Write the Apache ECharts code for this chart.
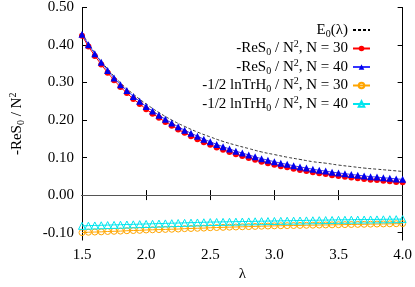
<!DOCTYPE html>
<html>
<head>
<meta charset="utf-8">
<script src="https://cdn.jsdelivr.net/npm/echarts@6/dist/echarts.min.js"></script>
<style>
html,body{margin:0;padding:0;background:#fff;}
#c{width:415px;height:287px;}
</style>
</head>
<body>
<div id="c"></div>
<script>
// lambda grid of the sampled points
const lambda = [
  1.50,1.55,1.60,1.65,1.70,1.75,1.80,1.85,1.90,1.95,2.00,
  2.05,2.10,2.15,2.20,2.25,2.30,2.35,2.40,2.45,2.50,
  2.55,2.60,2.65,2.70,2.75,2.80,2.85,2.90,2.95,3.00,
  3.05,3.10,3.15,3.20,3.25,3.30,3.35,3.40,3.45,3.50,
  3.55,3.60,3.65,3.70,3.75,3.80,3.85,3.90,3.95,4.00
];
// E0(lambda) dashed reference curve
const eLambda = [1.5,1.6,1.7,1.8,1.9,2.0,2.1,2.2,2.3,2.4,2.5,2.6,2.7,2.8,2.9,3.0,3.1,3.2,3.3,3.4,3.5,3.6,3.7,3.8,3.9,4.0];
const e0 = [0.431,0.379,0.336,0.299,0.269,0.243,0.220,0.200,0.183,0.168,0.155,0.143,0.133,0.124,0.115,0.108,0.101,0.095,0.089,0.085,0.080,0.076,0.072,0.069,0.066,0.063];
// -ReS0 / N^2
const reS30 = [
  0.425,0.396,0.371,0.348,0.326,0.306,0.288,0.272,0.256,0.243,0.229,
  0.217,0.206,0.195,0.185,0.175,0.166,0.157,0.149,0.141,0.134,
  0.127,0.121,0.115,0.109,0.104,0.099,0.094,0.089,0.085,0.081,
  0.077,0.074,0.070,0.067,0.064,0.061,0.058,0.056,0.053,0.051,
  0.049,0.047,0.045,0.043,0.041,0.040,0.038,0.037,0.035,0.034
];
const reS40 = [
  0.429,0.401,0.377,0.354,0.332,0.312,0.294,0.279,0.263,0.250,0.236,
  0.224,0.213,0.202,0.192,0.182,0.173,0.165,0.157,0.149,0.142,
  0.135,0.129,0.123,0.117,0.112,0.107,0.102,0.097,0.093,0.089,
  0.085,0.082,0.078,0.075,0.072,0.069,0.066,0.064,0.061,0.059,
  0.057,0.055,0.053,0.051,0.049,0.048,0.046,0.045,0.043,0.042
];
// -1/2 lnTrH0 / N^2
const lnTr30 = [
  -0.100,-0.099,-0.0985,-0.098,-0.097,-0.0965,-0.096,-0.095,-0.0945,-0.094,-0.093,
  -0.0925,-0.092,-0.0915,-0.091,-0.0905,-0.0895,-0.089,-0.0885,-0.088,-0.087,
  -0.0865,-0.086,-0.0855,-0.085,-0.0845,-0.084,-0.0835,-0.083,-0.0825,-0.082,
  -0.0817,-0.0814,-0.0811,-0.0808,-0.0805,-0.0802,-0.0799,-0.0796,-0.0793,-0.079,
  -0.0787,-0.0784,-0.0781,-0.0778,-0.0775,-0.0772,-0.0769,-0.0766,-0.0763,-0.076
];
const lnTr40 = [
  -0.082,-0.0815,-0.081,-0.0805,-0.080,-0.0795,-0.079,-0.0785,-0.078,-0.0775,-0.077,
  -0.0765,-0.076,-0.0755,-0.075,-0.0745,-0.074,-0.0735,-0.073,-0.0725,-0.072,
  -0.0717,-0.0714,-0.0711,-0.0708,-0.0705,-0.0702,-0.0699,-0.0696,-0.0693,-0.069,
  -0.0687,-0.0684,-0.0681,-0.0678,-0.0675,-0.0672,-0.0669,-0.0666,-0.0663,-0.066,
  -0.0658,-0.0656,-0.0654,-0.0652,-0.065,-0.0648,-0.0646,-0.0644,-0.0642,-0.064
];
const xTicks = [1.5,2.0,2.5,3.0,3.5,4.0];
const yTicks = [-0.1,0,0.1,0.2,0.3,0.4,0.5];

const legendTexts = {
  E0: 'E{sub|0}(λ)',
  r30: '-ReS{sub|0} / N{sup|2}, N = 30',
  r40: '-ReS{sub|0} / N{sup|2}, N = 40',
  l30: '-1/2 lnTrH{sub|0} / N{sup|2}, N = 30',
  l40: '-1/2 lnTrH{sub|0} / N{sup|2}, N = 40'
};
const FF = 'Liberation Serif';
const rich = {
  sub: {fontFamily: FF, fontSize: 10, color: '#000', padding: [8, 0, 0, 0]},
  sup: {fontFamily: FF, fontSize: 10, color: '#000', padding: [0, 0, 8, 0]}
};
function pairs(xs, ys) { return xs.map((x, i) => [x, ys[i]]); }

const chart = echarts.init(document.getElementById('c'));
chart.setOption({
  animation: false,
  grid: {left: 79, right: 9, top: 5, bottom: 42},
  legend: {
    data: [{name: 'E0', itemStyle: {opacity: 0}}, 'r30', 'r40', 'l30', 'l40'],
    right: 44,
    top: 22.5,
    orient: 'vertical',
    align: 'right',
    padding: 0,
    itemGap: 0.5,
    itemWidth: 17,
    itemHeight: 7,
    formatter: (name) => legendTexts[name],
    textStyle: {fontFamily: FF, fontSize: 15, color: '#000', rich: rich}
  },
  xAxis: [
    {
      type: 'value', min: 1.5, max: 4.0, interval: 0.5, position: 'bottom',
      axisLine: {show: true, lineStyle: {color: '#000', width: 1}},
      axisTick: {show: true, inside: true, length: 5, customValues: xTicks, lineStyle: {color: '#000'}},
      splitLine: {show: false},
      name: 'λ', nameLocation: 'middle', nameGap: 25,
      nameTextStyle: {fontFamily: FF, fontSize: 15, color: '#000'},
      axisLabel: {show: true, customValues: xTicks, margin: 7, fontFamily: FF, fontSize: 15, color: '#000',
        formatter: v => v.toFixed(1)}
    },
    {
      type: 'value', min: 1.5, max: 4.0, interval: 0.5, position: 'top',
      axisLine: {show: true, lineStyle: {color: '#000', width: 1}},
      axisTick: {show: true, inside: true, length: 5, customValues: xTicks, lineStyle: {color: '#000'}},
      splitLine: {show: false},
      axisLabel: {show: false}
    }
  ],
  yAxis: [
    {
      type: 'value', min: -0.12, max: 0.5, position: 'left',
      axisLine: {show: true, lineStyle: {color: '#000', width: 1}},
      axisTick: {show: true, inside: true, length: 5, customValues: yTicks, lineStyle: {color: '#000'}},
      splitLine: {show: false},
      name: '-ReS{sub|0} / N{sup|2}', nameLocation: 'middle', nameGap: 56,
      nameTextStyle: {fontFamily: FF, fontSize: 15, color: '#000', rich: rich},
      axisLabel: {show: true, customValues: yTicks, margin: 8, fontFamily: FF, fontSize: 15, color: '#000',
        formatter: v => v.toFixed(2)}
    },
    {
      type: 'value', min: -0.12, max: 0.5, position: 'right',
      axisLine: {show: true, lineStyle: {color: '#000', width: 1}},
      axisTick: {show: true, inside: true, length: 5, customValues: yTicks, lineStyle: {color: '#000'}},
      splitLine: {show: false},
      axisLabel: {show: false}
    }
  ],
  series: [
    {
      name: 'E0', type: 'line', data: pairs(eLambda, e0), smooth: true,
      symbol: 'none', showSymbol: false,
      lineStyle: {color: '#000', width: 0.8, type: [3, 2]},
      itemStyle: {color: '#000'},
      z: 3,
      markLine: {
        silent: true, symbol: ['none', 'none'], label: {show: false},
        lineStyle: {color: '#555', type: 'solid', width: 1},
        data: [{yAxis: 0}]
      }
    },
    {
      name: 'r30', type: 'line', data: pairs(lambda, reS30),
      symbol: 'circle', symbolSize: 6,
      itemStyle: {color: '#ff0000'},
      lineStyle: {color: '#ff0000', width: 1}
    },
    {
      name: 'r40', type: 'line', data: pairs(lambda, reS40),
      symbol: 'triangle', symbolSize: 7,
      itemStyle: {color: '#0000ee'},
      lineStyle: {color: '#3333ff', width: 1}
    },
    {
      name: 'l30', type: 'line', data: pairs(lambda, lnTr30),
      symbol: 'circle', symbolSize: 6,
      itemStyle: {color: 'rgba(255,255,255,0)', borderColor: '#ffa500', borderWidth: 1},
      lineStyle: {color: '#ffa500', width: 1}
    },
    {
      name: 'l40', type: 'line', data: pairs(lambda, lnTr40),
      symbol: 'triangle', symbolSize: 7,
      itemStyle: {color: 'rgba(255,255,255,0)', borderColor: '#00e5ee', borderWidth: 1},
      lineStyle: {color: '#00e5ee', width: 1}
    }
  ]
});
</script>
</body>
</html>
